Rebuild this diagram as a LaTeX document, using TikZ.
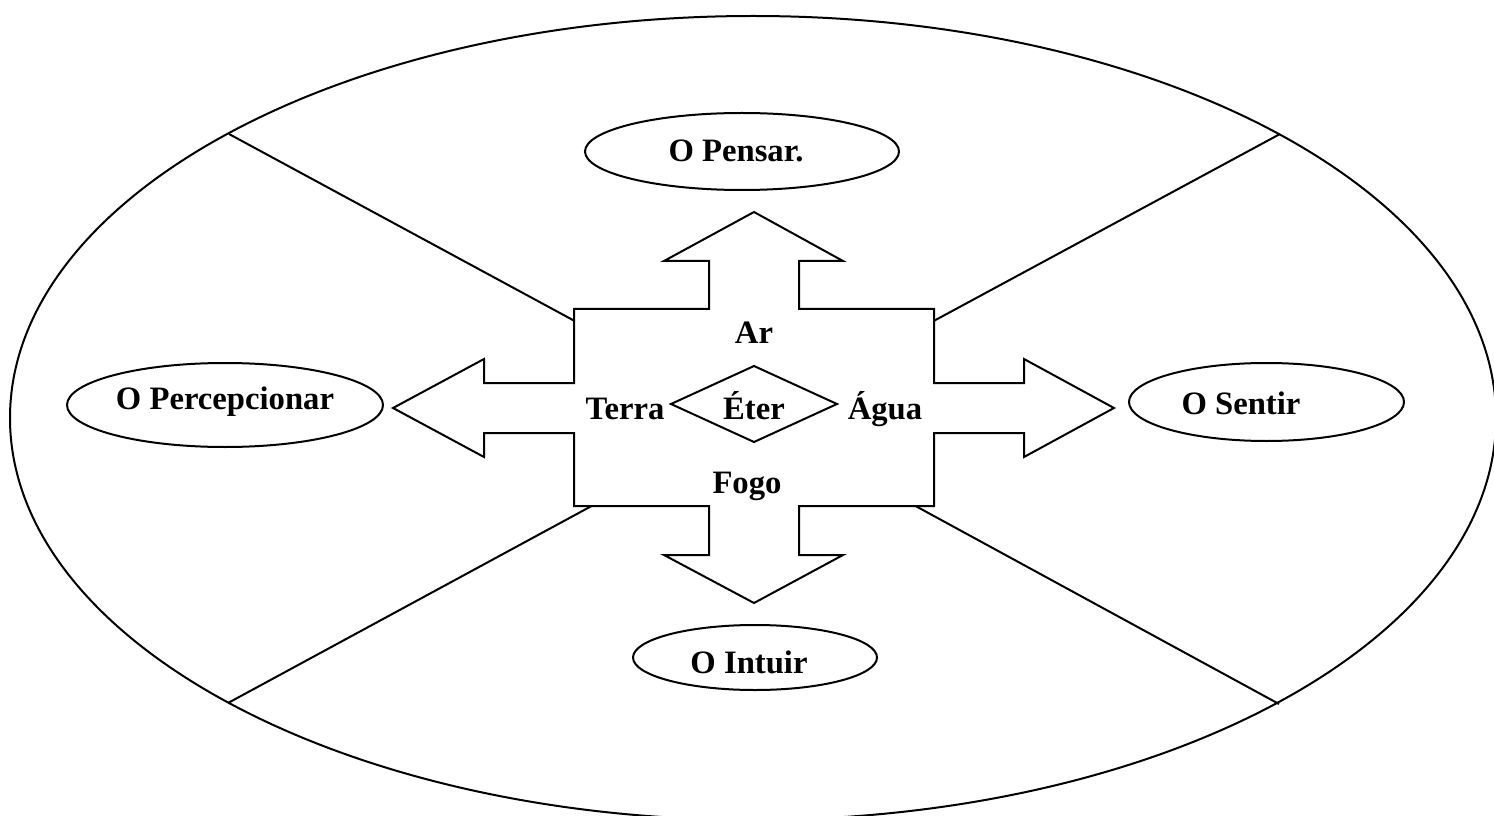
\documentclass[tikz,border=0pt]{standalone}
\usepackage{fontspec}
\setmainfont{Liberation Serif}
\usetikzlibrary{shapes.geometric}
\begin{document}
\begin{tikzpicture}[x=0.75pt,y=-0.75pt,
  stroke/.style={line width=1.5pt,black},
  oval/.style={stroke,draw,ellipse,inner sep=0pt},
  lbl/.style={font=\fontsize{24.5}{29}\selectfont\bfseries,anchor=base,inner sep=0pt}]
\useasboundingbox (0,0) rectangle (1494,816);
\clip (0,0) rectangle (1494,816);

% outer ellipse and the four dividing lines
\draw[stroke] (753,418) ellipse [x radius=557.25pt, y radius=301.5pt];
\coordinate (c) at (754,418);
\coordinate (nw) at (229,134);
\coordinate (ne) at (1280,134);
\coordinate (sw) at (228,703);
\coordinate (se) at (1279,704);
\draw[stroke] (nw) -- (c) -- (ne);
\draw[stroke] (sw) -- (c) -- (se);

% central four-way arrow
\filldraw[stroke,fill=white,line join=miter]
  (754,212) -- (843,261) -- (799,261) -- (799,309) -- (934,309) -- (934,383)
  -- (1024,383) -- (1024,359) -- (1114,408) -- (1024,457) -- (1024,433)
  -- (934,433) -- (934,506) -- (799,506) -- (799,555) -- (843,555)
  -- (754,603) -- (664,555) -- (709,555) -- (709,506) -- (574,506)
  -- (574,433) -- (484,433) -- (484,457) -- (393,408) -- (484,359)
  -- (484,383) -- (574,383) -- (574,309) -- (709,309) -- (709,261)
  -- (664,261) -- cycle;

% central diamond
\coordinate (dt) at (754,366);
\coordinate (dr) at (837,404);
\coordinate (db) at (754,442);
\coordinate (dl) at (671,404);
\draw[stroke,line join=miter] (dt) -- (dr) -- (db) -- (dl) -- cycle;

% element labels
\node[lbl] (ar) at (754,344) {Ar};
\node[lbl] (terra) at (625,419) {Terra};
\node[lbl] (eter) at (754,419) {Éter};
\node[lbl] (agua) at (885,419) {Água};
\node[lbl] (fogo) at (747,493) {Fogo};

% the four functions
\node[oval,minimum width=235.5pt,minimum height=57.75pt] (pensar) at (742,151.5) {};
\node[lbl] (tpensar) at (736,162) {O Pensar.};
\node[oval,minimum width=237pt,minimum height=63pt] (percep) at (225,405) {};
\node[lbl] (tpercep) at (225,409) {O Percepcionar};
\node[oval,minimum width=206.25pt,minimum height=58.5pt] (sentir) at (1266.5,402) {};
\node[lbl] (tsentir) at (1241,414) {O Sentir};
\node[oval,minimum width=183pt,minimum height=48.75pt] (intuir) at (755,657.5) {};
\node[lbl] (tintuir) at (749,673) {O Intuir};
\end{tikzpicture}
\end{document}
